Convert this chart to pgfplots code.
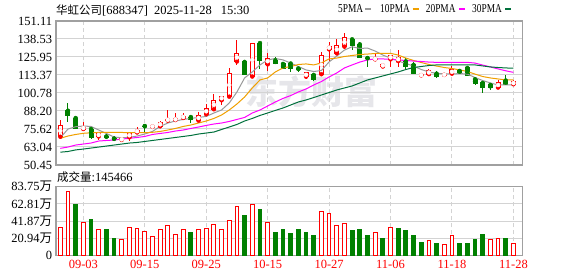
\documentclass[border=0pt]{standalone}
\usepackage{fontspec}
\setmainfont{Liberation Serif}
\newfontfamily\cjk{Noto Sans CJK SC}
\newfontfamily\legfont[FakeStretch=0.78]{Liberation Serif}
\usepackage{pgfplots}
\pgfplotsset{compat=1.18}
\usepackage{pgfplotstable}
\definecolor{cred}{HTML}{FF0000}
\definecolor{cgreen}{HTML}{008000}
\definecolor{ma5}{HTML}{999999}
\definecolor{ma10}{HTML}{F0A000}
\definecolor{ma20}{HTML}{FF00FF}
\definecolor{ma30}{HTML}{00703C}
\definecolor{gridc}{HTML}{D3D3D3}
\definecolor{framec}{HTML}{A0A0A0}
\definecolor{wm}{HTML}{E6E6EA}

% up candles (close > open): red hollow
\pgfplotstableread{
i o h l c
0 70.2 81.9 68.6 78.4
3 75.6 80.5 73.9 77.0
5 70.4 72.8 67.9 72.5
8 68.0 69.0 67.6 68.8
9 69.8 73.7 67.2 72.6
10 73.2 77.0 72.5 74.9
12 77.1 77.9 76.1 77.6
13 77.5 81.2 76.8 80.3
14 81.5 88.9 80.5 82.6
15 81.9 86.6 80.7 82.8
16 83.3 86.8 82.1 84.7
18 81.5 87.7 80.3 85.2
19 85.9 92.9 84.9 90.1
20 89.4 100.1 88.7 95.7
21 95.7 98.7 92.2 98.5
22 98.2 118.3 98.0 114.5
23 122.8 137.8 120.7 128.5
25 112.3 135.7 111.6 135.5
27 120.8 128.7 116.4 125.2
32 112.2 115.8 110.9 114.8
34 113.9 129.1 113.7 127.1
35 131.3 136.6 122.8 133.6
36 128.5 138.2 127.3 134.0
37 133.2 142.9 131.5 139.6
41 124.3 128.4 123.1 125.0
42 119.3 121.0 119.1 120.8
43 124.3 127.3 118.9 127.1
44 123.1 130.8 118.9 125.7
47 113.1 114.8 112.0 113.5
48 114.0 117.3 113.4 116.2
50 113.4 114.8 112.0 113.7
51 114.3 120.0 113.4 116.9
57 104.6 110.2 103.6 108.1
59 106.9 110.2 106.8 108.5
}\upc

% down candles (close < open): green filled
\pgfplotstableread{
i o h l c
1 88.4 94.0 80.7 85.4
2 83.3 83.5 75.5 76.3
4 75.6 76.5 68.6 70.0
6 70.4 71.8 68.6 70.0
7 68.9 70.4 68.2 68.5
11 77.7 79.1 73.5 77.4
17 84.0 85.1 79.5 82.6
24 122.5 123.9 113.7 114.0
26 135.7 135.7 117.6 123.5
28 123.6 125.7 120.8 121.4
29 121.1 121.5 117.6 118.0
30 121.4 122.4 115.8 117.7
31 117.9 120.0 115.8 117.2
33 113.4 115.0 109.5 110.4
38 138.3 139.2 130.8 134.1
39 134.8 136.4 125.4 125.6
40 125.2 125.9 119.1 124.9
45 122.9 124.9 117.6 119.3
46 120.4 122.4 114.3 114.4
49 114.3 116.2 111.5 112.3
52 116.2 117.9 114.8 115.1
53 118.3 119.2 112.7 113.1
54 110.4 111.6 106.6 107.3
55 107.8 108.7 101.1 104.3
56 106.4 107.6 102.9 104.5
58 109.5 113.4 106.4 106.7
}\dnc

\pgfplotstableread{
i m5 m10 m20 m30
0 69.4 69.1 62.1 59.4
1 75.6 70.7 63.0 59.9
2 77.2 71.8 64.4 61.0
3 77.7 72.6 65.1 61.6
4 77.4 73.0 65.8 62.3
5 74.9 73.2 67.2 63.0
6 72.5 73.3 67.6 63.7
7 70.0 73.3 67.9 64.4
8 69.5 73.2 68.6 65.1
9 69.8 73.0 69.1 65.8
10 70.7 73.0 69.7 66.2
11 72.1 73.0 70.4 66.9
12 73.9 73.3 71.8 67.6
13 77.4 73.9 72.5 68.3
14 79.8 74.9 73.2 69.0
15 81.2 76.0 74.2 69.7
16 82.3 77.4 74.9 70.4
17 83.0 78.4 76.0 71.1
18 83.7 79.8 77.0 72.1
19 84.4 81.2 78.1 72.8
20 86.8 83.0 79.1 73.5
21 88.9 85.4 79.8 75.3
22 93.8 88.9 80.9 77.0
23 101.5 93.1 82.3 78.8
24 111.3 98.0 83.7 81.2
25 115.5 104.3 86.8 83.0
26 120.4 109.9 88.9 85.1
27 123.9 111.3 91.7 86.8
28 124.9 115.5 94.5 88.6
29 123.9 118.3 97.0 90.3
30 121.7 119.3 99.0 92.4
31 119.3 120.7 101.5 94.5
32 116.9 121.1 103.6 95.9
33 115.8 120.4 106.4 97.6
34 116.5 121.8 108.8 99.4
35 122.5 124.6 112.0 101.1
36 126.6 125.2 114.8 102.9
37 130.8 126.3 118.3 104.3
38 133.1 127.0 120.4 105.7
39 131.9 127.7 122.4 107.8
40 132.2 128.0 123.9 109.9
41 130.1 128.4 124.6 111.3
42 127.3 128.5 124.6 112.7
43 125.2 128.5 124.3 114.1
44 123.1 127.3 123.9 115.5
45 121.4 125.2 123.5 117.2
46 119.6 123.5 123.1 118.6
47 117.2 122.1 122.8 119.3
48 115.5 120.7 122.4 120.0
49 114.5 119.6 122.2 120.4
50 114.2 118.6 122.2 120.4
51 114.0 117.9 122.2 120.4
52 114.4 116.9 122.2 120.4
53 114.0 115.8 122.2 120.4
54 111.6 114.0 121.7 120.4
55 109.5 112.3 120.3 119.7
56 107.8 111.3 119.0 119.0
57 106.4 110.6 117.6 118.6
58 106.4 109.9 116.3 118.3
59 106.4 109.9 115.2 118.1
}\mas

\pgfplotsset{
  base/.style={
    scale only axis, anchor=south west,
    width=466.7pt,
    xmin=-0.56, xmax=60.21,
    xtick={3,11,19,27,35,43,51,59},
    xmajorgrids, ymajorgrids,
    x grid style={draw=gridc, line width=1pt, dash pattern=on 4pt off 3pt},
    y grid style={draw=gridc, line width=1pt},
    axis line style={draw=framec, line width=1.3pt},
    major tick length=0pt,
    tick label style={font=\fontsize{12.5}{12.5}\selectfont, text=black},
    yticklabel style={anchor=east, inner sep=0pt, xshift=-3.7pt},
  },
  ebar/.style 2 args={color=#1, only marks, mark=none,
    error bars/.cd, y dir=both, y explicit, error mark=none,
    error bar style={draw=#1, color=#1, solid, line width=#2}},
}

\begin{document}
\begin{tikzpicture}
\path (0pt,0pt) rectangle (578pt,276pt);
\node[text=wm, font=\cjk\bfseries\fontsize{33}{33}\selectfont, inner sep=0] at (311pt,184pt) {东方财富};

\begin{axis}[base, at={(56pt,111pt)}, height=144pt,
  ymin=50.45, ymax=151.11,
  ytick={50.45,63.04,75.62,88.20,100.78,113.37,125.95,138.53,151.11},
  yticklabels={50.45,63.04,75.62,88.20,100.78,113.37,125.95,138.53,151.11},
  xticklabels={},
]
% wicks
\addplot[ebar={cred}{1pt}] table[x=i, y=o,
  y error plus expr=\thisrow{h}-\thisrow{o},
  y error minus expr=\thisrow{o}-\thisrow{l}] {\upc};
\addplot[ebar={cgreen}{1pt}] table[x=i, y=o,
  y error plus expr=\thisrow{h}-\thisrow{o},
  y error minus expr=\thisrow{o}-\thisrow{l}] {\dnc};
% bodies
\addplot[ebar={cred}{5pt}] table[x=i,
  y expr=(\thisrow{o}+\thisrow{c})/2,
  y error expr={abs(\thisrow{c}-\thisrow{o})/2+0.35}] {\upc};
\addplot[ebar={white}{3pt}] table[x=i,
  y expr=(\thisrow{o}+\thisrow{c})/2,
  y error expr={max(abs(\thisrow{c}-\thisrow{o})/2-0.35,0)}] {\upc};
\addplot[ebar={cgreen}{5pt}] table[x=i,
  y expr=(\thisrow{o}+\thisrow{c})/2,
  y error expr={abs(\thisrow{c}-\thisrow{o})/2+0.35}] {\dnc};
% moving averages
\addplot[ma5, line width=1pt] table[x=i, y=m5] {\mas};
\addplot[ma10, line width=1pt] table[x=i, y=m10] {\mas};
\addplot[ma20, line width=1pt] table[x=i, y=m20] {\mas};
\addplot[ma30, line width=1pt] table[x=i, y=m30] {\mas};
\end{axis}

\begin{axis}[base, at={(56pt,20.7pt)}, height=68.6pt,
  ymin=0, ymax=83.75,
  ytick={0,20.94,41.87,62.81,83.75},
  yticklabels={0,20.94{\cjk 万},41.87{\cjk 万},62.81{\cjk 万},83.75{\cjk 万}},
  xticklabels={09-03,09-15,09-25,10-15,10-27,11-06,11-18,11-28},
  xticklabel style={text=cred, anchor=north, inner sep=0pt, yshift=-5pt},
]
\addplot[ybar, bar width=3.8pt, bar shift=0pt, draw=cred, fill=white, line width=1pt] coordinates {
(0,34.2) (1,78.1) (3,40.3) (5,31.7) (8,19.5) (9,34.2) (10,33.0) (11,29.3) (12,23.2) (13,31.7) (14,36.1) (15,25.6) (16,30.9) (18,30.9) (19,33.0) (20,37.8) (21,30.9) (22,42.7) (23,59.8) (25,62.3) (27,40.3) (34,52.9) (35,51.6) (36,36.6) (37,39.1) (41,28.1) (43,34.2) (48,17.5) (50,12.6) (51,23.6) (56,18.7) (57,21.1) (59,14.5466)
};
\addplot[ybar, bar width=3.8pt, bar shift=0pt, draw=cgreen, fill=cgreen, line width=1pt] coordinates {
(2,62.6) (4,43.9) (6,30.9) (7,21.1) (17,28.4) (24,48.8) (26,56.2) (28,28.4) (29,32.1) (30,27.2) (31,30.9) (32,28.4) (33,23.6) (38,29.7) (39,32.1) (40,23.6) (42,21.1) (44,33.0) (45,29.7) (46,23.6) (47,16.2) (49,14.6) (52,13.8) (53,15.0) (54,19.0) (55,26.0) (58,21.1)
};
\end{axis}

\node[anchor=west, inner sep=0, font=\fontsize{12.5}{12.5}\selectfont] at (56pt,266pt) {{\cjk\fontsize{11.5}{11.5}\selectfont 华虹公司}[688347]\hspace{6pt}2025-11-28\hspace{9pt}15:30};
\node[anchor=west, inner sep=0, font=\fontsize{12.5}{12.5}\selectfont] at (57pt,98.7pt) {{\cjk\fontsize{11.5}{11.5}\selectfont 成交量}:145466};

\node[anchor=west, inner sep=0, font=\legfont\fontsize{12}{12}\selectfont] at (338pt,267pt) {5PMA};
\draw[ma5, line width=2pt] (365pt,267pt) -- (371pt,267pt);
\node[anchor=west, inner sep=0, font=\legfont\fontsize{12}{12}\selectfont] at (380pt,267pt) {10PMA};
\draw[ma10, line width=2pt] (412.7pt,267pt) -- (419.3pt,267pt);
\node[anchor=west, inner sep=0, font=\legfont\fontsize{12}{12}\selectfont] at (425.7pt,267pt) {20PMA};
\draw[ma20, line width=2pt] (459.3pt,267pt) -- (465.3pt,267pt);
\node[anchor=west, inner sep=0, font=\legfont\fontsize{12}{12}\selectfont] at (472pt,267pt) {30PMA};
\draw[ma30, line width=2pt] (505pt,267pt) -- (510.7pt,267pt);
\end{tikzpicture}
\end{document}
